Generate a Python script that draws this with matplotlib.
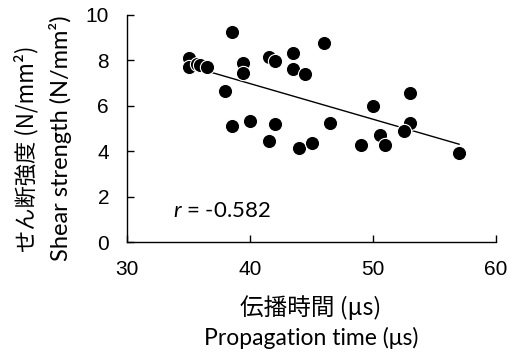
import numpy as np
import matplotlib
matplotlib.use("Agg")
import matplotlib.pyplot as plt

# Data
propagation_time = [35.0, 35.0, 35.7, 35.9, 36.5, 38.5, 38.0, 39.45, 39.45, 38.5,
                    40.0, 41.5, 42.0, 42.0, 41.5, 43.5, 43.5, 44.5, 46.0, 44.0,
                    45.0, 46.5, 50.0, 53.0, 53.0, 52.5, 50.6, 51.0, 49.0, 57.0]
shear_strength = [8.1, 7.7, 7.85, 7.8, 7.7, 9.23, 6.65, 7.9, 7.45, 5.1,
                  5.32, 8.13, 7.98, 5.2, 4.44, 8.33, 7.64, 7.42, 8.77, 4.13,
                  4.35, 5.25, 6.0, 6.56, 5.25, 4.91, 4.72, 4.28, 4.29, 3.92]
r_text = "-0.582"
x_ticks = [30, 40, 50, 60]
y_ticks = [0, 2, 4, 6, 8, 10]

plt.rcParams["mathtext.fontset"] = "custom"
plt.rcParams["mathtext.it"] = "Lato:italic"
plt.rcParams["mathtext.rm"] = "Lato"

x = np.array(propagation_time)
y = np.array(shear_strength)

fig = plt.figure(figsize=(5.21, 3.57), dpi=100)
ax = fig.add_axes([0.244, 0.322, 0.708, 0.636])

ax.scatter(x, y, s=105, color="black", edgecolors="white", linewidths=0.8, zorder=3)
slope, intercept = np.polyfit(x, y, 1)
xl = np.array([x.min(), x.max()])
ax.plot(xl, slope * xl + intercept, color="black", lw=1.0, zorder=2)

ax.set_xlim(30, 60)
ax.set_ylim(0, 10)
ax.set_xticks(x_ticks)
ax.set_yticks(y_ticks)
for s in ["top", "right"]:
    ax.spines[s].set_visible(False)
for s in ["left", "bottom"]:
    ax.spines[s].set_linewidth(1.0)
ax.tick_params(direction="in", length=5, width=1.0, labelsize=15)
ax.tick_params(axis="x", pad=13)
ax.tick_params(axis="y", pad=13)
for lab in ax.get_xticklabels() + ax.get_yticklabels():
    lab.set_fontfamily("Liberation Sans")

ax.text(33.7, 1.37, "$\\mathit{r}$ = " + r_text, fontsize=16, va="center", ha="left",
        family="Lato")

jp = ["Noto Sans CJK JP", "DejaVu Sans"]
fig.text(311 / 521, 1 - 308 / 357, "伝播時間 (μs)", ha="center", va="center",
         fontsize=17, family=jp)
fig.text(311 / 521, 1 - 338 / 357, "Propagation time (μs)", ha="center", va="center",
         fontsize=16.5, family="Lato")
fig.text(26 / 521, 1 - 149 / 357, "せん断強度 (N/mm²)", ha="center", va="center",
         rotation=90, fontsize=16, family=jp)
fig.text(60 / 521, 1 - 138 / 357, "Shear strength (N/mm²)", ha="center", va="center",
         rotation=90, fontsize=17, family="Lato")

fig.savefig("out.png", dpi=100)
